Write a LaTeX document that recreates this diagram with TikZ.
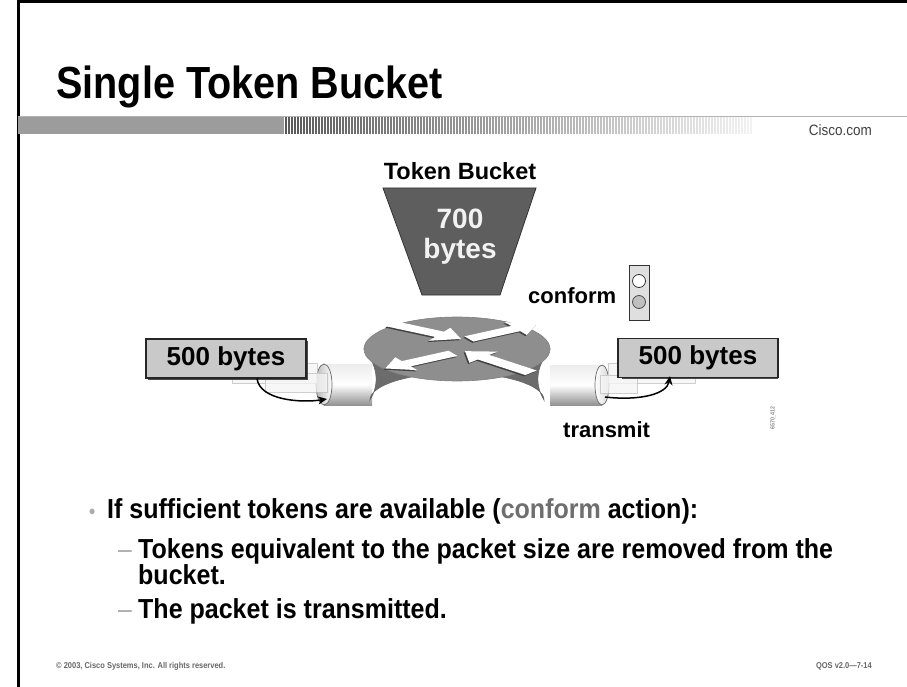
\documentclass[tikz,border=0pt]{standalone}
\usepackage{fontspec}
\setmainfont{Liberation Sans}
\newfontfamily\slidefont{Liberation Sans Bold}[FakeStretch=0.88]
\newfontfamily\bodyfont{Liberation Sans Bold}[FakeStretch=0.91]
\newfontfamily\slidereg{Liberation Sans}[FakeStretch=0.9]
\usetikzlibrary{arrows.meta,calc}
\definecolor{bucketgrey}{HTML}{5E5E5E}
\definecolor{routertop}{HTML}{8E8E8E}
\definecolor{routerside}{HTML}{6C6C6C}
\definecolor{pktfill}{HTML}{C9C9C9}
\definecolor{bargrey}{HTML}{9C9C9C}
\definecolor{softgrey}{HTML}{6E6E6E}

% white arrow on the router top, drawn from tail (#2,#3) to tip (#4,#5)
\newcommand\routerarrow[5][]{%
  \pgfmathsetmacro\rdx{#4-(#2)}%
  \pgfmathsetmacro\rdy{#5-(#3)}%
  \pgfmathsetmacro\rlen{veclen(\rdx,\rdy)}%
  \pgfmathsetmacro\rux{\rdx/\rlen}%
  \pgfmathsetmacro\ruy{\rdy/\rlen}%
  \pgfmathsetmacro\rbx{#4-25*(\rux)}%
  \pgfmathsetmacro\rby{#5-25*(\ruy)}%
  \path[#1] ({#2-8.5*(\ruy)},{#3+8.5*(\rux)}) -- ({\rbx-8.5*(\ruy)},{\rby+8.5*(\rux)})
    -- ({\rbx-21*(\ruy)},{\rby+21*(\rux)}) -- (#4,#5)
    -- ({\rbx+21*(\ruy)},{\rby-21*(\rux)}) -- ({\rbx+8.5*(\ruy)},{\rby-8.5*(\rux)})
    -- ({#2+8.5*(\ruy)},{#3-8.5*(\rux)}) -- cycle;}

\begin{document}
\begin{tikzpicture}[x=1pt,y=-1pt,
  slidetext/.style={inner sep=0pt, anchor=base west, font=\bodyfont\fontsize{27.5}{27.5}\selectfont},
  dashmark/.style={inner sep=0pt, anchor=base west, text=gray!65, font=\slidereg\fontsize{27.5}{27.5}\selectfont},
  lbl/.style={inner sep=0pt, font=\bfseries\fontsize{22}{22}\selectfont},
  pkt/.style={draw=black!85, line width=1.2pt, fill=pktfill, minimum width=160pt,
    minimum height=39pt, inner sep=0pt, font=\bfseries\fontsize{26}{26}\selectfont},
  ghost/.style={draw=gray!50, fill=gray!8, line width=0.6pt, opacity=0.75},
  conn/.style={line width=1.5pt, -{Stealth[length=9pt,width=8pt]}},
  tubeend/.style={draw=black!60, line width=0.7pt}]

\useasboundingbox (0,0) rectangle (907,687);
\fill[white] (0,0) rectangle (907,687);

% slide frame
\draw[line width=3pt] (18,687) -- (18,1.5) -- (907,1.5);

% title and header bar
\node[inner sep=0pt, anchor=base west, font=\slidefont\fontsize{45}{45}\selectfont] (title) at (56,99) {Single Token Bucket};
\fill[bargrey] (18,116) rectangle (284,134);
\draw[gray!60, line width=0.8pt] (18,116) -- (907,116);
\foreach \i in {0,...,155} {
  \pgfmathsetmacro\gv{60*(1-\i/155)+5}
  \draw[line width=1.1pt, black!\gv] ({286+3*\i},117) -- ({286+3*\i},134);
}
\node[inner sep=0pt, anchor=base east, text=black!75, font=\slidereg\fontsize{15}{15}\selectfont] (site) at (872,136) {Cisco.com};

% token bucket
\node[lbl, anchor=base, font=\bfseries\fontsize{23.5}{23.5}\selectfont] (tblabel) at (460,179) {Token Bucket};
\draw[fill=bucketgrey, draw=black!80, line width=0.8pt] (383,188) -- (536,188) -- (500,295) -- (422,295) -- cycle;
\node[lbl, anchor=base, text=white!95!black, font=\bfseries\fontsize{28}{28}\selectfont] (amount) at (460,229) {700};
\node[lbl, anchor=base, text=white!95!black, font=\bfseries\fontsize{28}{28}\selectfont] (unit) at (460,258) {bytes};

% conform signal
\node[lbl, anchor=base west] (conform) at (528,303) {conform};
\node[draw=black!80, fill=gray!25, line width=1pt, minimum width=20pt, minimum height=55pt, inner sep=0pt] (signal) at (639,292.5) {};
\draw[fill=white, draw=black!80, line width=0.8pt] (639,281) circle[radius=6.5pt];
\draw[fill=gray!50, draw=black!70, line width=0.8pt] (639,302) circle[radius=6.5pt];

% interface tubes
\shade[top color=white!85!gray, bottom color=gray!85, middle color=white] (324,364) rectangle (372,405);
\shade[tubeend, left color=gray!55, right color=white] (324,384.5) ellipse[x radius=8pt, y radius=20.5pt];
\shade[top color=white!85!gray, bottom color=gray!85, middle color=white] (550,365) rectangle (602,405);
\shade[tubeend, left color=white, right color=gray!30] (602,385) ellipse[x radius=7pt, y radius=20pt];

% router body
\fill[routerside, draw=black!60, line width=0.6pt]
  (364,349) .. controls (379,368) and (379,385) .. (370,400)
  arc[start angle=180, end angle=0, x radius=87pt, y radius=27pt]
  .. controls (535,385) and (535,368) .. (550,349) -- cycle;
\fill[routertop, draw=black!50, line width=0.6pt] (457,349) ellipse[x radius=93pt, y radius=32pt];
\begin{scope}[shift={(457,349)}, yscale=0.36]
  \begin{scope}[xshift=-1.3pt, yshift=-3.5pt]
    \routerarrow[fill=black!75]{-66}{-70}{4}{-28}
    \routerarrow[fill=black!75]{12}{-28}{80}{-70}
    \routerarrow[fill=black!75]{-4}{12}{-72}{54}
    \routerarrow[fill=black!75]{74}{66}{8}{6}
  \end{scope}
  \routerarrow[fill=white]{-66}{-70}{4}{-28}
  \routerarrow[fill=white]{12}{-28}{80}{-70}
  \routerarrow[fill=white]{-4}{12}{-72}{54}
  \routerarrow[fill=white]{74}{66}{8}{6}
\end{scope}

% packets moving through the interfaces
\draw[ghost] (232,363) rectangle (317,383);
\draw[ghost] (265,373) rectangle (327,392);
\draw[ghost] (608,363) rectangle (695,383);
\draw[ghost] (600,375) rectangle (637,393);

\fill[black!70] (147.5,340.5) rectangle (307.5,379.5);
\node[pkt] (lbox) at (226,358.5) {500 bytes};
\fill[black!70] (621.5,340.5) rectangle (777.5,378.5);
\node[pkt] (rbox) at (698,358) {500 bytes};

\coordinate (lin) at (327,399);
\coordinate (rout) at (605,397);
\draw[conn] ([xshift=31pt]lbox.south) .. controls +(3,22) and +(-25,4) .. (lin);
\draw[conn] (rout) .. controls +(35,4) and +(-3,18) .. ([xshift=-28pt,yshift=2pt]rbox.south);

\node[lbl, anchor=base west] (transmit) at (563,437) {transmit};
\node[inner sep=0pt, rotate=90, text=black!45, font=\slidefont\fontsize{6}{6}\selectfont] (figid) at (773,418) {6570\_412};

% bullet text
\node[inner sep=0pt, anchor=base west, text=gray!65, font=\slidefont\fontsize{20}{20}\selectfont] (b1) at (89,518) {•};
\node[slidetext] (t1) at (107,518) {If sufficient tokens are available (\textcolor{softgrey}{conform} action):};
\node[dashmark] (d2) at (118,558) {–};
\node[slidetext] (t2) at (138,558) {Tokens equivalent to the packet size are removed from the};
\node[slidetext] (t3) at (138,584) {bucket.};
\node[dashmark] (d4) at (118,618) {–};
\node[slidetext] (t4) at (138,618) {The packet is transmitted.};

% footer
\node[inner sep=0pt, anchor=base west, text=black!60, font=\slidefont\fontsize{8.5}{8.5}\selectfont] (copy) at (56,668) {© 2003, Cisco Systems, Inc. All rights reserved.};
\node[inner sep=0pt, anchor=base east, text=black!60, font=\slidefont\fontsize{8.5}{8.5}\selectfont] (course) at (872,668) {QOS v2.0—7-14};
\end{tikzpicture}
\end{document}
